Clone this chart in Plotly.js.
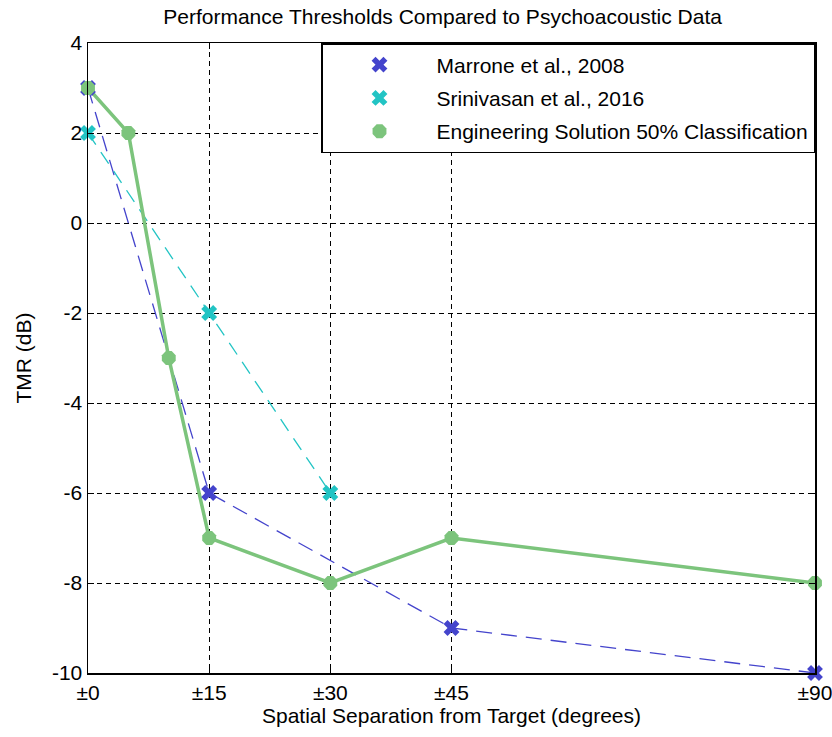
<!DOCTYPE html>
<html><head><meta charset="utf-8">
<script src="https://cdn.plot.ly/plotly-3.0.1.min.js"></script>
<style>body{margin:0;background:#fff}#chart{width:832px;height:737px}</style>
</head><body><div id="chart"></div>
<script>
const tickVals = [0, 15, 30, 45, 90];
const tickText = ['±0', '±15', '±30', '±45', '±90'];
const yTickVals = [-10, -8, -6, -4, -2, 0, 2, 4];
const yTickText = ['-10', '-8', '-6', '-4', '-2', '0', '2', '4'];
const marroneX = [0, 15, 45, 90];
const marroneY = [3, -6, -9, -10];
const srinivasanX = [0, 15, 30];
const srinivasanY = [2, -2, -6];
const engX = [0, 5, 10, 15, 30, 45, 90];
const engY = [3, 2, -3, -7, -8, -7, -8];
const names = ['Marrone et al., 2008', 'Srinivasan et al., 2016', 'Engineering Solution 50% Classification'];

const cBlue = '#4444cc', cCyan = '#22c4c4', cGreen = '#7cc47c';
const traces = [
  {x: marroneX, y: marroneY, mode: 'lines', line: {color: cBlue, width: 1.3, dash: '16px,9px'}, showlegend: false, cliponaxis: false},
  {x: srinivasanX, y: srinivasanY, mode: 'lines', line: {color: cCyan, width: 1.3, dash: '14px,9px'}, showlegend: false, cliponaxis: false},
  {x: engX, y: engY, mode: 'lines', line: {color: cGreen, width: 3.5}, showlegend: false, cliponaxis: false},
  {x: marroneX, y: marroneY, mode: 'markers', name: names[0], legendgroup: 'a', marker: {symbol: 'x', size: 14, color: cBlue}, cliponaxis: false},
  {x: srinivasanX, y: srinivasanY, mode: 'markers', name: names[1], legendgroup: 'b', marker: {symbol: 'x', size: 14, color: cCyan}, cliponaxis: false},
  {x: engX, y: engY, mode: 'markers', name: names[2], legendgroup: 'c', marker: {symbol: 'octagon', size: 15, color: cGreen}, cliponaxis: false}
];
const fam = 'Liberation Sans, Arial, sans-serif';
const layout = {
  width: 832, height: 737,
  margin: {l: 88, r: 17, t: 43, b: 64},
  paper_bgcolor: '#fff', plot_bgcolor: '#fff',
  font: {family: fam, size: 20, color: '#000'},
  title: {text: 'Performance Thresholds Compared to Psychoacoustic Data', font: {family: fam, size: 21, color: '#000'}, x: 0.532, xanchor: 'center', y: 0.977, yanchor: 'middle'},
  xaxis: {
    range: [0, 90], tickvals: tickVals, ticktext: tickText,
    showline: true, linecolor: '#000', linewidth: 1.5, mirror: 'ticks',
    ticks: 'inside', ticklen: 6, tickcolor: '#000', ticklabeloverflow: 'allow',
    showgrid: true, gridcolor: '#000', griddash: '5px,4px', gridwidth: 1,
    zeroline: false, tickfont: {size: 21},
    title: {text: 'Spatial Separation from Target (degrees)', font: {size: 21}, standoff: 4}
  },
  yaxis: {
    range: [-10, 4], tickvals: yTickVals, ticktext: yTickText,
    showline: true, linecolor: '#000', linewidth: 1.5, mirror: 'ticks',
    ticks: 'inside', ticklen: 6, tickcolor: '#000',
    showgrid: true, gridcolor: '#000', griddash: '5px,4px', gridwidth: 1,
    zeroline: false, tickfont: {size: 21},
    title: {text: 'TMR (dB)', font: {size: 21}, standoff: 14}
  },
  legend: {
    x: 1, xanchor: 'right', y: 1, yanchor: 'top',
    bgcolor: '#fff', bordercolor: '#000', borderwidth: 1.5,
    font: {size: 21}, traceorder: 'grouped', tracegroupgap: 3,
    itemwidth: 104
  }
};
Plotly.newPlot('chart', traces, layout, {displayModeBar: false, staticPlot: true});
</script></body></html>
